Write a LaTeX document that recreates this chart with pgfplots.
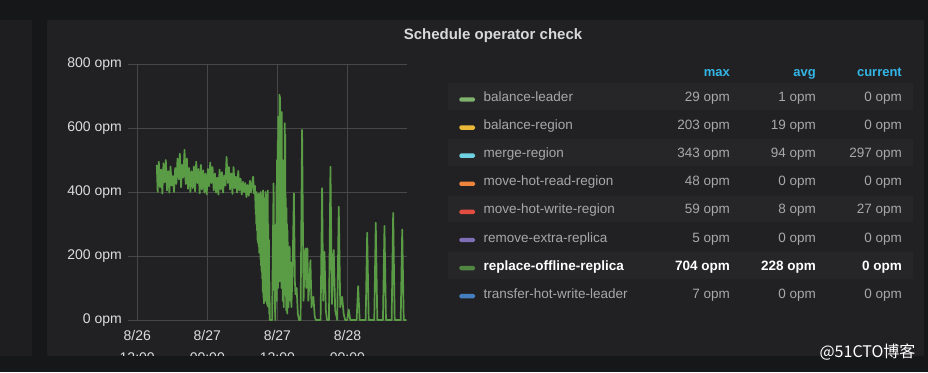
\documentclass[border=0pt]{standalone}
\usepackage{fontspec}
\setmainfont{Liberation Sans}
\newfontfamily\cjk{Noto Sans CJK SC}
\usepackage{pgfplots}
\pgfplotsset{compat=1.18}
\definecolor{pagebg}{HTML}{161719}
\definecolor{leftpanel}{HTML}{1E1E20}
\definecolor{panelbg}{HTML}{212124}
\definecolor{rowbg}{HTML}{262628}
\definecolor{gridc}{HTML}{474747}
\definecolor{tickc}{HTML}{DCDDDE}
\definecolor{titlec}{HTML}{D8D9DA}
\definecolor{headc}{HTML}{33B5E5}
\definecolor{legc}{HTML}{A8A8A8}
\definecolor{linec}{HTML}{5A9C45}
\definecolor{c1}{HTML}{7EB26D}
\definecolor{c2}{HTML}{EAB839}
\definecolor{c3}{HTML}{6ED0E0}
\definecolor{c4}{HTML}{EF843C}
\definecolor{c5}{HTML}{E24D42}
\definecolor{c6}{HTML}{806EB7}
\definecolor{c7}{HTML}{508642}
\definecolor{c8}{HTML}{447EBF}
\begin{document}
\begin{tikzpicture}[x=1pt,y=1pt]
\fill[pagebg] (0,0) rectangle (928,372);
\fill[leftpanel] (0,16) rectangle (32,352);
\fill[panelbg, rounded corners=2pt] (47,16) rectangle (924,352);
\node[font=\fontsize{15}{17}\selectfont\bfseries, text=titlec] at (493,336) {Schedule operator check};
% legend table
\foreach \r in {275.3,219.1,162.9,106.7} \fill[rowbg] (448,\r-13.4) rectangle (913,\r+13.4);
\begin{scope}[font=\fontsize{13}{15}\selectfont\bfseries, text=headc]
\node[anchor=base east, inner sep=0pt] at (730,295.1) {max};
\node[anchor=base east, inner sep=0pt] at (816,295.1) {avg};
\node[anchor=base east, inner sep=0pt] at (902,295.1) {current};
\end{scope}
\foreach \yy/\col/\nm/\mx/\av/\cu in {275.3/c1/balance-leader/29/1/0, 247.2/c2/balance-region/203/19/0, 219.1/c3/merge-region/343/94/297, 191/c4/move-hot-read-region/48/0/0, 162.9/c5/move-hot-write-region/59/8/27, 134.8/c6/remove-extra-replica/5/0/0, 78.6/c8/transfer-hot-write-leader/7/0/0}{
  \fill[\col, rounded corners=1.5pt] (459.3,\yy-5) rectangle (475,\yy-0.6);
  \begin{scope}[font=\fontsize{13.5}{16}\selectfont, text=legc]
  \node[anchor=base west, inner sep=0pt] at (483.5,\yy-4.9) {\nm};
  \node[anchor=base east, inner sep=0pt] at (730,\yy-4.9) {\mx\ opm};
  \node[anchor=base east, inner sep=0pt] at (816,\yy-4.9) {\av\ opm};
  \node[anchor=base east, inner sep=0pt] at (902,\yy-4.9) {\cu\ opm};
  \end{scope}
}
\fill[c7, rounded corners=1.5pt] (459.3,106.7-5) rectangle (475,106.7-0.6);
\begin{scope}[font=\fontsize{13.5}{16}\selectfont\bfseries, text=white]
\node[anchor=base west, inner sep=0pt] at (483.5,101.8) {replace-offline-replica};
\node[anchor=base east, inner sep=0pt] at (730,101.8) {704 opm};
\node[anchor=base east, inner sep=0pt] at (816,101.8) {228 opm};
\node[anchor=base east, inner sep=0pt] at (902,101.8) {0 opm};
\end{scope}
\begin{axis}[at={(128pt,52pt)}, anchor=south west, scale only axis,
  width=279.3pt, height=256pt,
  xmin=-1.58, xmax=46.25, ymin=0, ymax=800,
  axis line style={draw=none},
  major tick length=0pt, tick style={draw=none},
  grid=major, major grid style={gridc, line width=0.6pt},
  xtick={0,12,24,36},
  xticklabels={{8/26\\12:00},{8/27\\00:00},{8/27\\12:00},{8/28\\00:00}},
  xticklabel style={font=\fontsize{14}{21.5}\selectfont, text=tickc, align=center, anchor=north, inner sep=0pt, yshift=-10.5pt},
  ytick={0,200,400,600,800},
  yticklabels={0 opm,200 opm,400 opm,600 opm,800 opm},
  yticklabel style={font=\fontsize{14}{17}\selectfont, text=tickc, anchor=east, inner sep=0pt, xshift=-6pt},
  clip=false]
\addplot[linec, line width=1.7pt, line join=round, mark=none] coordinates {
(3.35,485)(3.5,400)(3.7,495)(3.9,415)(4.1,470)(4.3,395)(4.5,490)(4.7,430)(4.9,500)(5.1,405)(5.3,465)(5.5,398)(5.7,480)(5.9,420)(6.1,450)(6.3,400)(6.5,475)(6.7,425)(6.9,505)(7.1,440)(7.3,520)(7.5,415)(7.7,485)(7.9,445)(8.1,532)(8.3,425)(8.5,505)(8.7,410)(8.9,475)(9.1,400)(9.3,465)(9.5,412)(9.7,480)(9.9,402)(10.1,495)(10.3,428)(10.5,472)(10.7,396)(10.9,485)(11.1,408)(11.3,468)(11.5,398)(11.7,458)(11.9,393)(12.1,472)(12.3,418)(12.5,492)(12.7,428)(12.9,478)(13.1,405)(13.3,458)(13.5,398)(13.7,445)(13.9,392)(14.1,470)(14.3,408)(14.5,462)(14.7,398)(14.9,452)(15.1,420)(15.3,510)(15.5,428)(15.7,478)(15.9,408)(16.1,458)(16.3,394)(16.5,478)(16.7,412)(16.9,448)(17.1,398)(17.3,466)(17.5,405)(17.7,442)(17.9,392)(18.1,432)(18.3,400)(18.5,428)(18.7,384)(18.9,422)(19.1,388)(19.3,435)(19.5,398)(19.7,430)(19.85,448)(20.0,395)(20.15,420)
(20.3,330)(20.35,395)(20.4,300)(20.45,400)(20.5,280)(20.55,385)(20.6,250)(20.65,390)(20.7,240)(20.75,370)(20.8,230)(20.85,395)(20.9,210)(20.95,360)(21.0,209)(21.05,380)(21.1,190)(21.15,400)(21.2,170)(21.25,350)(21.3,150)(21.35,390)(21.4,130)(21.45,370)(21.5,90)(21.55,405)(21.6,70)(21.65,330)(21.7,52)(21.75,380)(21.8,110)(21.85,300)(21.9,60)(21.95,400)(22.0,80)(22.05,350)(22.1,60)(22.15,390)(22.2,50)(22.25,330)(22.3,45)(22.35,405)(22.4,42)(22.45,300)(22.5,40)(22.55,250)(22.6,20)(22.65,120)(22.7,0)(23.1,0)(23.2,190)(23.35,427)(23.45,190)(23.55,60)(23.65,0)(23.75,300)(23.8,80)(23.85,420)(23.9,60)(23.95,500)(24.0,150)(24.05,560)(24.1,100)(24.15,635)(24.2,200)(24.25,600)(24.3,250)(24.35,704)(24.4,120)(24.45,698)(24.5,300)(24.55,640)(24.6,420)(24.65,600)(24.7,100)(24.75,650)(24.8,200)(24.85,500)(24.9,60)(24.95,430)(25.0,120)(25.05,420)(25.1,40)(25.15,500)(25.2,150)(25.25,615)(25.3,80)(25.35,580)(25.4,200)(25.45,380)(25.5,30)(25.55,350)(25.6,120)(25.65,300)(25.7,20)(25.75,280)(25.8,90)(25.85,229)(25.9,40)(25.95,200)(26.0,100)(26.1,229)(26.2,60)(26.3,180)(26.4,40)(26.6,150)(26.83,396)(27.0,120)(27.1,80)(27.3,100)(27.5,20)(27.7,0)(27.97,0)(28.23,594)(28.49,60)(28.6,150)(28.8,224)(28.95,100)(29.14,224)(29.3,60)(29.5,120)(29.66,187)(29.85,40)(30.0,60)(30.17,73)(30.4,10)(30.6,0)(31.4,0)(31.66,412)(31.85,60)(32.06,213)(32.3,30)(32.5,0)(32.83,0)(33.09,479)(33.35,50)(33.65,219)(33.9,30)(34.25,0)(34.51,354)(34.77,40)(35.09,73)(35.35,20)(35.6,0)(35.96,0)(36.22,33)(36.48,0)(37.57,0)(37.83,106)(38.09,0)(39.12,0)(39.38,273)(39.64,0)(40.59,0)(40.85,304)(41.11,0)(42.08,0)(42.34,294)(42.6,0)(43.57,0)(43.83,335)(44.09,0)(45.12,0)(45.38,283)(45.64,0)(46.11,0)
};
\end{axis}
\fill[pagebg] (0,0) rectangle (928,16);
\node[font=\cjk\fontsize{16}{18}\selectfont, text=white, inner sep=0pt] at (867.5,19.7) {@51CTO博客};
\pgfresetboundingbox
\path[use as bounding box] (0,0) rectangle (928,372);
\end{tikzpicture}
\end{document}
